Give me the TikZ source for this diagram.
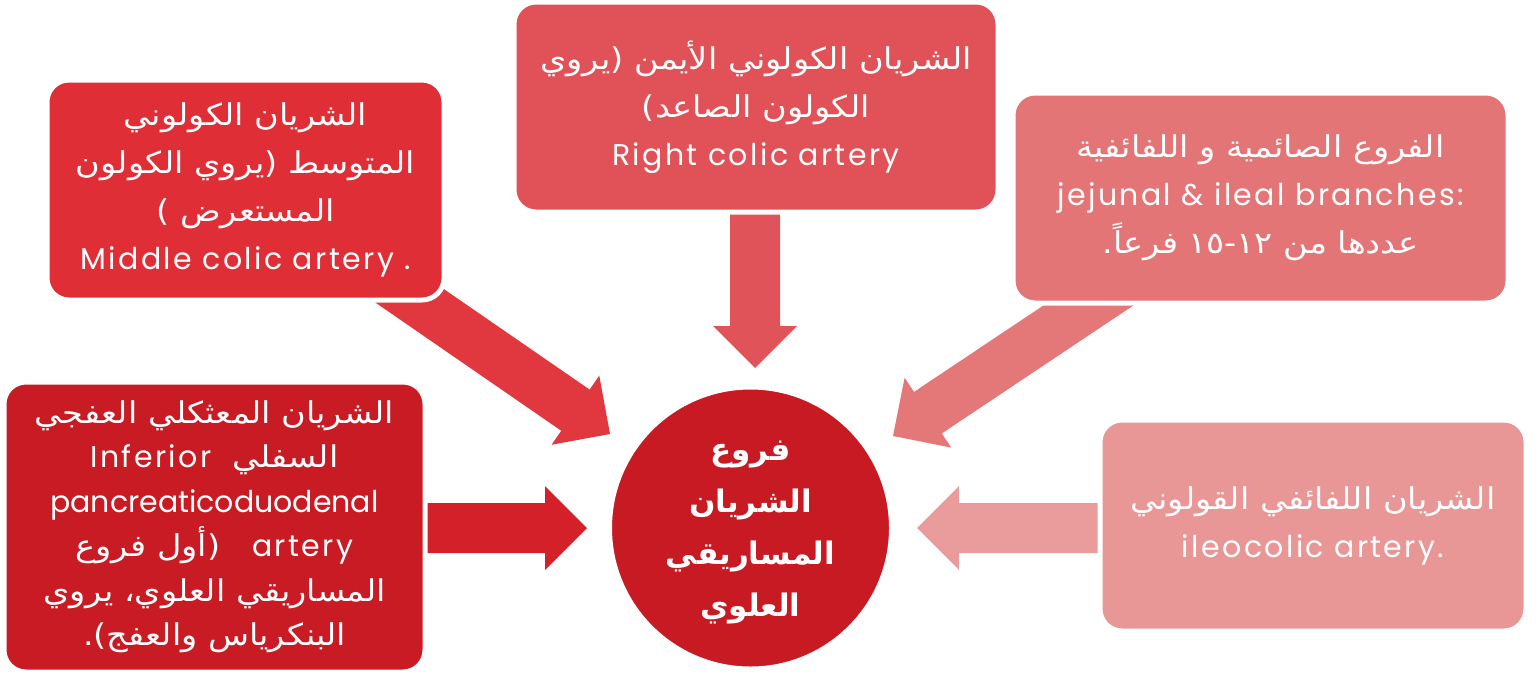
\documentclass[tikz,border=0pt]{standalone}
\usepackage{fontspec}
\setmainfont{Poppins}
\newfontfamily\latinfont[LetterSpace=8]{Poppins}
\newfontfamily\latinnarrow{Poppins}
\newfontfamily\arabicfont[Script=Arabic,FakeStretch=1.12]{DejaVu Sans}
\newfontfamily\arabichub[Script=Arabic]{DejaVu Sans}
\TeXXeTstate=1
\usetikzlibrary{calc}
\definecolor{cA}{HTML}{E02E36}
\definecolor{cB}{HTML}{E05257}
\definecolor{cC}{HTML}{E37576}
\definecolor{cD}{HTML}{C91B23}
\definecolor{cE}{HTML}{E99697}
\definecolor{cM}{HTML}{C81A22}
\definecolor{aA}{HTML}{E1383F}
\definecolor{aB}{HTML}{E05459}
\definecolor{aC}{HTML}{E47879}
\definecolor{aD}{HTML}{D42129}
\definecolor{aE}{HTML}{EA9C9D}
\newcommand\blockarr[3]{%
  \path ($(#2)!42pt!(#1)$) coordinate (h#2);
  \fill[#3] ($(#1)!25pt!90:(#2)$) -- ($(h#2)!25pt!90:(#2)$) -- ($(h#2)!42pt!90:(#2)$)
    -- (#2) -- ($(h#2)!42pt!-90:(#2)$) -- ($(h#2)!25pt!-90:(#2)$) -- ($(#1)!25pt!-90:(#2)$) -- cycle;}
\begin{document}
\begin{tikzpicture}[x=1pt,y=-1pt,
  box/.style={rectangle, draw=white, line width=5pt, rounded corners=22pt, inner sep=0pt,
    text=white, align=center, font=\fontsize{30}{48}\selectfont\arabicfont},
  hub/.style={circle, draw=white, line width=5pt, inner sep=0pt},
  hubtext/.style={text=white, align=center, inner sep=0pt,
    font=\fontsize{31}{52}\selectfont\arabichub\bfseries}]
\useasboundingbox (0,0) rectangle (1538,675);
% arrow end points
\coordinate (sA) at (378,274);  \coordinate (tA) at (610,434);
\coordinate (sB) at (755,190);  \coordinate (tB) at (755,368);
\coordinate (sC) at (1134,275); \coordinate (tC) at (893,436);
\coordinate (sD) at (400,528);  \coordinate (tD) at (587,528);
\coordinate (sE) at (1120,528); \coordinate (tE) at (917,528);
\blockarr{sA}{tA}{aA}
\blockarr{sB}{tB}{aB}
\blockarr{sC}{tC}{aC}
\blockarr{sD}{tD}{aD}
\blockarr{sE}{tE}{aE}
% boxes
\node[box, fill=cA, minimum width=397pt, minimum height=220pt] (A) at (245.5,190) {%
\beginR الشريان الكولوني\endR\\
\beginR المتوسط (يروي الكولون\endR\\
\beginR المستعرض )\endR\\
{\latinfont Middle colic artery .}};
\node[box, fill=cB, minimum width=484pt, minimum height=210pt] (B) at (756,107) {%
\beginR الشريان الكولوني الأيمن (يروي\endR\\
\beginR الكولون الصاعد)\endR\\
{\latinfont Right colic artery}};
\node[box, fill=cC, minimum width=495pt, minimum height=210pt] (C) at (1260.5,198) {%
\beginR الفروع الصائمية و اللفائفية\endR\\
{\latinfont jejunal \& ileal branches:}\\
\beginR عددها من ١٢-١٥ فرعاً.\endR};
\node[box, fill=cD, minimum width=421pt, minimum height=290pt, font=\fontsize{30}{44.5}\selectfont\arabicfont] (D) at (214.5,527) {%
\beginR الشريان المعثكلي العفجي\endR\\
\beginR السفلي\ \ {\latinfont Inferior}\endR\\
{\latinnarrow pancreaticoduodenal}\\
\beginR{\latinfont artery}\ \ \ (أول فروع\endR\\
\beginR المساريقي العلوي، يروي\endR\\
\beginR البنكرياس والعفج).\endR};
\node[box, fill=cE, minimum width=426pt, minimum height=211pt] (E) at (1313,525.5) {%
\beginR الشريان اللفائفي القولوني\endR\\
{\latinfont ileocolic artery.}};
\node[hub, fill=cM, minimum size=282pt] (M) at (750.5,528) {};
\node[hubtext] (Mt) at ($(M.center)+(0,5)$) {%
\beginR فروع\endR\\
\beginR الشريان\endR\\
\beginR المساريقي\endR\\
\beginR العلوي\endR};
\end{tikzpicture}
\end{document}
